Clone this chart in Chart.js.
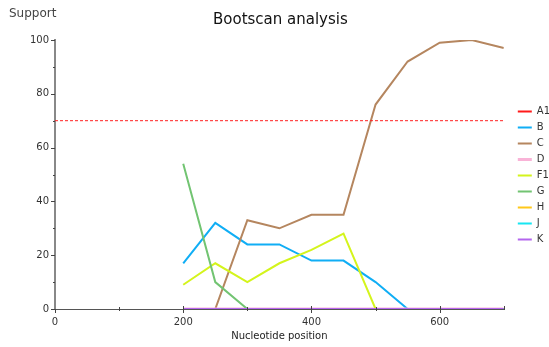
<!DOCTYPE html>
<html>
<head>
<meta charset="utf-8">
<script src="https://cdn.jsdelivr.net/npm/chart.js@4/dist/chart.umd.min.js"></script>
<style>
  html, body { margin: 0; padding: 0; background: #fff; }
  #wrap { width: 549px; height: 347px; }
</style>
</head>
<body>
<div id="wrap"><canvas id="c" width="549" height="347"></canvas></div>
<script>
// Window centres along the alignment (nucleotide position)
const positions = [200, 250, 300, 350, 400, 450, 500, 550, 600, 650, 700];

// Bootstrap support (%) for each reference subtype
const seriesNames = ['A1', 'B', 'C', 'D', 'F1', 'G', 'H', 'J', 'K'];
const supportA1 = [0, 0, 0, 0, 0, 0, 0, 0, 0, 0, 0];
const supportB  = [17, 32, 24, 24, 18, 18, 10, 0, 0, 0, 0];
const supportC  = [null, 0, 33, 30, 35, 35, 76, 92, 99, 100, 97];
const supportD  = [0, 0, 0, 0, 0, 0, 0, 0, 0, 0, 0];
const supportF1 = [9, 17, 10, 17, 22, 28, 0, 0, 0, 0, 0];
const supportG  = [54, 10, 0, 0, 0, 0, 0, 0, 0, 0, 0];
const supportH  = [0, 0, 0, 0, 0, 0, 0, 0, 0, 0, 0];
const supportJ  = [0, 0, 0, 0, 0, 0, 0, 0, 0, 0, 0];
const supportK  = [0, 0, 0, 0, 0, 0, 0, 0, 0, 0, 0];

// Significance threshold and axis extents
const threshold = 70;
const xRange = [0, 700];
const yRange = [0, 100];
const xLabelTicks = [0, 200, 400, 600];
const yLabelTicks = [0, 20, 40, 60, 80, 100];

const colors = {
  A1: '#ff1a1a', B: '#10aef5', C: '#b5865f', D: '#f9b3d7', F1: '#d4f41c',
  G: '#72c472', H: '#ffc81a', J: '#17e6f2', K: '#b466ee'
};
const values = {
  A1: supportA1, B: supportB, C: supportC, D: supportD, F1: supportF1,
  G: supportG, H: supportH, J: supportJ, K: supportK
};

const datasets = seriesNames.map((name, i) => ({
  label: name,
  data: positions.map((p, j) => ({ x: p, y: values[name][j] })),
  borderColor: colors[name],
  backgroundColor: colors[name],
  borderWidth: name === 'D' ? 3 : 2,
  pointRadius: 0,
  tension: 0,
  fill: false,
  order: -i
}));

datasets.push({
  label: 'threshold',
  data: [{ x: xRange[0], y: threshold }, { x: xRange[1], y: threshold }],
  borderColor: '#ff2020',
  borderWidth: 1,
  borderDash: [3, 2],
  pointRadius: 0,
  fill: false,
  order: -100
});

const FONT = "'DejaVu Sans', sans-serif";
const TICK_COLOR = '#444';

// Title centred over the plot area, plus the horizontal "Support" caption
const captions = {
  id: 'captions',
  afterDraw(chart) {
    const { ctx, chartArea } = chart;
    ctx.save();
    ctx.textBaseline = 'middle';
    ctx.font = '15px ' + FONT;
    ctx.fillStyle = '#111';
    ctx.textAlign = 'center';
    ctx.fillText('Bootscan analysis', (chartArea.left + chartArea.right) / 2 + 1, 20);
    ctx.font = '12px ' + FONT;
    ctx.fillStyle = '#444';
    ctx.textAlign = 'left';
    ctx.fillText('Support', 9, 14);
    ctx.restore();
  }
};

// Tick marks: labelled ones are longer, unlabelled ones short; x ticks cross the axis
const tickMarks = {
  id: 'tickMarks',
  afterDraw(chart) {
    const { ctx } = chart;
    const xs = chart.scales.x, ys = chart.scales.y;
    const y0 = ys.getPixelForValue(yRange[0]);
    const x0 = xs.getPixelForValue(xRange[0]);
    ctx.save();
    ctx.strokeStyle = TICK_COLOR;
    ctx.lineWidth = 1;
    ctx.beginPath();
    for (let v = xRange[0]; v <= xRange[1]; v += 100) {
      const px = Math.round(xs.getPixelForValue(v)) + 0.5;
      const major = xLabelTicks.includes(v);
      if (v === xRange[1]) {
        ctx.moveTo(px, y0 - 3); ctx.lineTo(px, y0 + 1);
      } else if (major) {
        ctx.moveTo(px, y0 - (v === 0 ? 0 : 3)); ctx.lineTo(px, y0 + 4);
      } else {
        ctx.moveTo(px, y0 - 2); ctx.lineTo(px, y0 + 2);
      }
    }
    for (let v = yRange[0]; v <= yRange[1]; v += 10) {
      const py = Math.round(ys.getPixelForValue(v)) + 0.5;
      const len = yLabelTicks.includes(v) ? 4 : 2;
      ctx.moveTo(x0 - len, py); ctx.lineTo(x0, py);
    }
    ctx.stroke();
    ctx.restore();
  }
};

// Place the legend a little right of the plot area, centred on it vertically
const legendShift = {
  id: 'legendShift',
  afterLayout(chart) {
    const lg = chart.legend;
    if (!lg) return;
    const w = lg.right - lg.left;
    lg.left = chart.chartArea.right + 8;
    lg.right = lg.left + w;
    const h = lg.bottom - lg.top;
    const mid = (chart.chartArea.top + chart.chartArea.bottom) / 2;
    lg.top = mid - h / 2 + 1;
    lg.bottom = lg.top + h;
  }
};

new Chart(document.getElementById('c'), {
  type: 'line',
  data: { datasets },
  plugins: [captions, tickMarks, legendShift],
  options: {
    responsive: false,
    animation: false,
    layout: { padding: { left: 0, right: -3, top: 40, bottom: 0 } },
    plugins: {
      title: { display: false },
      legend: {
        position: 'right',
        labels: {
          font: { family: FONT, size: 10 },
          color: '#333',
          usePointStyle: true,
          pointStyle: 'line',
          pointStyleWidth: 14,
          boxWidth: 14,
          padding: 6,
          filter: item => item.text !== 'threshold',
          sort: (a, b) => a.datasetIndex - b.datasetIndex
        }
      },
      tooltip: { enabled: false }
    },
    scales: {
      x: {
        type: 'linear',
        min: xRange[0],
        max: xRange[1],
        afterFit(scale) { scale.height = 38; },
        afterBuildTicks(scale) {
          const t = [];
          for (let v = xRange[0]; v <= xRange[1]; v += 100) t.push({ value: v });
          scale.ticks = t;
        },
        ticks: {
          font: { family: FONT, size: 10 },
          color: '#333',
          padding: 3,
          maxRotation: 0,
          autoSkip: false,
          callback: v => xLabelTicks.includes(v) ? String(v) : ''
        },
        grid: { drawOnChartArea: false, tickLength: 4, color: 'rgba(0,0,0,0)' },
        border: { color: '#555', width: 1 },
        title: {
          display: true,
          text: 'Nucleotide position',
          font: { family: FONT, size: 10 },
          color: '#222',
          padding: { top: 0, bottom: 5 }
        }
      },
      y: {
        min: yRange[0],
        max: yRange[1],
        afterFit(scale) { scale.width = 55; },
        afterBuildTicks(scale) {
          const t = [];
          for (let v = yRange[0]; v <= yRange[1]; v += 10) t.push({ value: v });
          scale.ticks = t;
        },
        ticks: {
          font: { family: FONT, size: 10 },
          color: '#333',
          padding: 2,
          autoSkip: false,
          callback: v => yLabelTicks.includes(v) ? String(v) : ''
        },
        grid: { drawOnChartArea: false, tickLength: 4, color: 'rgba(0,0,0,0)' },
        border: { color: '#888', width: 2 }
      }
    }
  }
});
</script>
</body>
</html>
